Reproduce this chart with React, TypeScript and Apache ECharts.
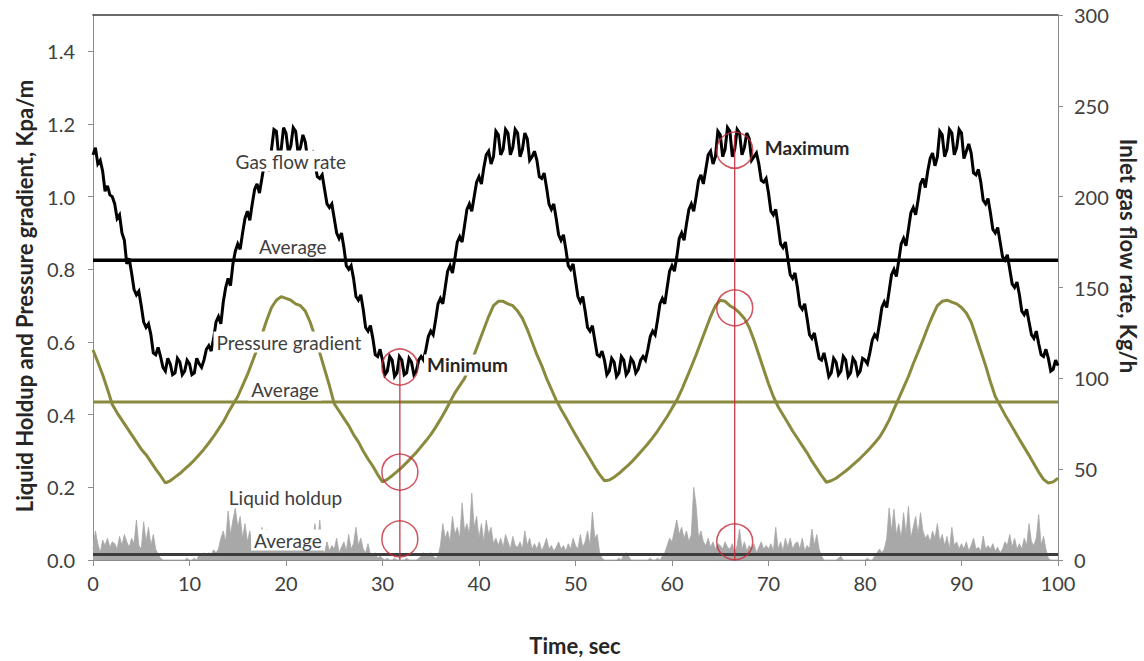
import React, { useEffect, useRef } from "react";
import * as echarts from "echarts";

// ---- Data ----
const GAS_STEP = 0.25; // s
// Inlet gas flow rate, Kg/h, t = 0, 0.25, ..., 100 (one row per second)
const gasFlow = [
  223, 227, 218, 220,
  214, 203, 206, 201,
  200, 196, 188, 190,
  180, 176, 163, 166,
  158, 149, 146, 148,
  140, 131, 128, 130,
  124, 114, 113, 117,
  112, 106, 104, 111,
  108, 102, 103, 111,
  109, 102, 104, 110,
  108, 102, 103, 111,
  108, 106, 110, 116,
  118, 115, 122, 131,
  134, 130, 142, 150,
  155, 151, 163, 170,
  174, 171, 180, 188,
  192, 187, 196, 204,
  207, 202, 210, 218,
  220, 214, 226, 237,
  236, 222, 226, 238,
  235, 224, 228, 238,
  236, 224, 227, 234,
  230, 220, 222, 224,
  218, 211, 210, 212,
  204, 196, 194, 196,
  188, 180, 177, 180,
  172, 162, 160, 162,
  155, 145, 143, 146,
  138, 128, 126, 129,
  122, 113, 112, 116,
  110, 102, 104, 112,
  110, 101, 103, 112,
  110, 102, 103, 111,
  109, 102, 104, 110,
  112, 110, 116, 123,
  126, 124, 132, 141,
  144, 141, 150, 159,
  162, 158, 166, 175,
  178, 175, 184, 193,
  196, 192, 200, 208,
  211, 207, 216, 223,
  225, 218, 222, 236,
  234, 223, 226, 237,
  235, 223, 227, 237,
  235, 222, 226, 235,
  232, 220, 222, 225,
  220, 211, 210, 213,
  205, 196, 193, 196,
  188, 179, 176, 179,
  171, 162, 160, 163,
  154, 145, 142, 145,
  137, 128, 126, 129,
  121, 113, 112, 115,
  110, 102, 104, 111,
  109, 101, 103, 112,
  110, 102, 104, 111,
  109, 103, 105, 110,
  112, 110, 116, 123,
  126, 124, 132, 141,
  144, 141, 150, 159,
  162, 159, 167, 177,
  180, 176, 185, 193,
  196, 192, 200, 209,
  212, 207, 215, 223,
  225, 218, 222, 236,
  234, 222, 226, 238,
  236, 222, 226, 237,
  235, 223, 227, 235,
  232, 220, 222, 224,
  218, 209, 208, 210,
  202, 192, 190, 193,
  184, 174, 172, 175,
  166, 157, 155, 158,
  150, 140, 138, 141,
  133, 124, 122, 125,
  118, 111, 110, 114,
  108, 101, 103, 111,
  109, 102, 104, 112,
  110, 101, 103, 111,
  109, 102, 104, 111,
  110, 108, 114, 121,
  124, 122, 130, 139,
  142, 139, 148, 157,
  160, 156, 165, 174,
  177, 173, 182, 191,
  194, 190, 198, 207,
  210, 205, 214, 221,
  224, 217, 222, 236,
  234, 222, 226, 237,
  235, 223, 227, 237,
  235, 221, 225, 229,
  224, 213, 212, 215,
  208, 198, 196, 199,
  191, 182, 180, 183,
  175, 167, 165, 168,
  160, 152, 150, 153,
  146, 137, 135, 138,
  131, 124, 122, 126,
  119, 113, 112, 116,
  111, 104, 105, 110,
  107,
];

const PRESSURE_STEP = 0.5; // s
// Pressure gradient, Kpa/m, t = 0, 0.5, ..., 100
const pressureGradient = [
  0.578, 0.545, 0.51, 0.47, 0.428, 0.405, 0.385, 0.365, 0.345, 0.325,
  0.305, 0.29, 0.27, 0.25, 0.232, 0.212, 0.218, 0.228, 0.238, 0.25,
  0.262, 0.275, 0.29, 0.305, 0.322, 0.34, 0.36, 0.38, 0.405, 0.428,
  0.45, 0.48, 0.51, 0.545, 0.58, 0.62, 0.66, 0.695, 0.715, 0.725,
  0.72, 0.715, 0.705, 0.7, 0.685, 0.655, 0.615, 0.57, 0.525, 0.48,
  0.43, 0.41, 0.39, 0.37, 0.345, 0.325, 0.3, 0.278, 0.258, 0.235,
  0.215, 0.222, 0.232, 0.243, 0.255, 0.268, 0.282, 0.296, 0.312, 0.328,
  0.345, 0.365, 0.387, 0.41, 0.435, 0.46, 0.48, 0.5, 0.53, 0.565,
  0.6, 0.635, 0.67, 0.7, 0.712, 0.712, 0.705, 0.7, 0.685, 0.665,
  0.635, 0.6, 0.565, 0.535, 0.5, 0.47, 0.44, 0.415, 0.392, 0.368,
  0.345, 0.322, 0.3, 0.278, 0.255, 0.235, 0.218, 0.22, 0.228, 0.238,
  0.25, 0.262, 0.275, 0.29, 0.305, 0.32, 0.337, 0.355, 0.375, 0.395,
  0.418, 0.44, 0.468, 0.5, 0.532, 0.565, 0.6, 0.635, 0.67, 0.7,
  0.715, 0.712, 0.7, 0.692, 0.68, 0.665, 0.64, 0.605, 0.565, 0.525,
  0.485, 0.45, 0.422, 0.4, 0.378, 0.355, 0.335, 0.315, 0.295, 0.272,
  0.252, 0.232, 0.214, 0.218, 0.225, 0.235, 0.245, 0.256, 0.268, 0.28,
  0.293, 0.307, 0.322, 0.338, 0.36, 0.385, 0.415, 0.445, 0.475, 0.505,
  0.54, 0.572, 0.605, 0.64, 0.672, 0.7, 0.712, 0.715, 0.71, 0.705,
  0.695, 0.68, 0.655, 0.615, 0.575, 0.535, 0.49, 0.45, 0.425, 0.4,
  0.378, 0.355, 0.332, 0.31, 0.288, 0.265, 0.242, 0.222, 0.212, 0.215,
  0.225,
];

const HOLDUP_STEP = 0.25; // s
// Liquid holdup, t = 0, 0.25, ..., 100 (one row per second)
const liquidHoldup = [
  0.03, 0.08, 0.045, 0.02,
  0.055, 0.04, 0.06, 0.035,
  0.05, 0.045, 0.03, 0.065,
  0.04, 0.07, 0.05, 0.035,
  0.06, 0.045, 0.11, 0.04,
  0.03, 0.105, 0.05, 0.09,
  0.04, 0.07, 0.03, 0.015,
  0.005, 0, 0, 0,
  0, 0, 0, 0,
  0, 0, 0, 0.005,
  0, 0, 0.005, 0,
  0.015, 0.01, 0.02, 0.01,
  0.02, 0.015, 0.028, 0.02,
  0.03, 0.06, 0.08, 0.05,
  0.135, 0.07, 0.11, 0.143,
  0.09, 0.12, 0.06, 0.1,
  0.05, 0.08, 0.04, 0.035,
  0.05, 0.03, 0.09, 0.04,
  0.085, 0.035, 0.05, 0.03,
  0.045, 0.06, 0.03, 0.05,
  0.035, 0.055, 0.04, 0.03,
  0.05, 0.035, 0.06, 0.04,
  0.03, 0.045, 0.035, 0.05,
  0.1, 0.04, 0.11, 0.03,
  0.02, 0.05, 0.025, 0.04,
  0.03, 0.06, 0.02, 0.035,
  0.05, 0.025, 0.07, 0.03,
  0.045, 0.09, 0.04, 0.06,
  0.03, 0.02, 0.045, 0.015,
  0.01, 0.02, 0.005, 0.01,
  0.005, 0, 0.005, 0,
  0, 0.005, 0, 0,
  0, 0, 0.005, 0,
  0, 0, 0, 0.005,
  0.01, 0.02, 0.01, 0.015,
  0.02, 0.01, 0.005, 0.01,
  0.04, 0.1, 0.06, 0.08,
  0.05, 0.12, 0.07, 0.09,
  0.06, 0.157, 0.08, 0.1,
  0.07, 0.184, 0.09, 0.12,
  0.06, 0.1, 0.05, 0.11,
  0.07, 0.09, 0.045, 0.06,
  0.04, 0.06, 0.035, 0.07,
  0.05, 0.03, 0.065, 0.04,
  0.035, 0.05, 0.03, 0.08,
  0.04, 0.06, 0.03, 0.045,
  0.03, 0.05, 0.025, 0.04,
  0.06, 0.03, 0.04, 0.025,
  0.035, 0.05, 0.03, 0.04,
  0.025, 0.045, 0.03, 0.06,
  0.04, 0.03, 0.07, 0.035,
  0.05, 0.08, 0.04, 0.132,
  0.06, 0.07, 0.02, 0.005,
  0, 0, 0, 0,
  0, 0, 0.005, 0,
  0.015, 0.02, 0.01, 0,
  0, 0, 0, 0,
  0, 0, 0, 0.005,
  0, 0, 0.005, 0,
  0.01, 0.02, 0.04, 0.06,
  0.05, 0.08, 0.11, 0.07,
  0.09, 0.06, 0.08, 0.05,
  0.07, 0.2, 0.15, 0.06,
  0.08, 0.05, 0.04, 0.06,
  0.035, 0.05, 0.03, 0.045,
  0.04, 0.03, 0.05, 0.035,
  0.03, 0.045, 0.02, 0.04,
  0.085, 0.03, 0.05, 0.025,
  0.04, 0.03, 0.045, 0.02,
  0.035, 0.05, 0.03, 0.04,
  0.03, 0.045, 0.025, 0.09,
  0.03, 0.05, 0.025, 0.06,
  0.035, 0.06, 0.03, 0.045,
  0.05, 0.03, 0.06, 0.025,
  0.04, 0.03, 0.085, 0.04,
  0.07, 0.03, 0.01, 0,
  0, 0, 0, 0,
  0, 0.005, 0.01, 0,
  0, 0, 0, 0,
  0, 0, 0, 0,
  0, 0.005, 0, 0,
  0.01, 0.02, 0.03, 0.02,
  0.03, 0.06, 0.143, 0.08,
  0.14, 0.07, 0.1, 0.06,
  0.13, 0.07, 0.148, 0.06,
  0.09, 0.12, 0.07, 0.13,
  0.08, 0.06, 0.07, 0.05,
  0.08, 0.06, 0.1, 0.05,
  0.07, 0.04, 0.065, 0.03,
  0.09, 0.04, 0.05, 0.03,
  0.045, 0.03, 0.05, 0.025,
  0.04, 0.06, 0.03, 0.035,
  0.025, 0.066, 0.03, 0.04,
  0.03, 0.045, 0.025, 0.035,
  0.02, 0.03, 0.05, 0.04,
  0.07, 0.035, 0.06, 0.03,
  0.045, 0.03, 0.06, 0.04,
  0.1, 0.05, 0.04, 0.06,
  0.125, 0.04, 0.065, 0.03,
  0.005, 0, 0, 0,
  0,
];

// averages
const AVG_GAS = 165; // Kg/h
const AVG_PRESSURE = 0.435; // Kpa/m
const AVG_HOLDUP = 0.015;

// minimum / maximum markers
const MIN_TIME = 31.8;
const minimumMarks = [0.531, 0.242, 0.058];
const MAX_TIME = 66.5;
const maximumMarks = [1.128, 0.694, 0.05];
const MIN_LINE_TOP = 0.55;
const MAX_LINE_TOP = 1.17;

// in-plot annotations (data coordinates on the left axis)
const annotationTexts = [
  "Gas flow rate",
  "Average",
  "Pressure gradient",
  "Average",
  "Liquid holdup",
  "Average",
  "Minimum",
  "Maximum",
];
const annotationTime = [20.5, 20.7, 20.3, 19.9, 19.95, 20.2, 38.8, 74.0];
const annotationValue = [1.098, 0.864, 0.6, 0.468, 0.173, 0.055, 0.537, 1.134];
const annotationBold = [false, false, false, false, false, false, true, true];

// axes
const X_MIN = 0;
const X_MAX = 100;
const X_INTERVAL = 10;
const LEFT_MIN = 0;
const LEFT_MAX = 1.5;
const LEFT_INTERVAL = 0.2;
const RIGHT_MIN = 0;
const RIGHT_MAX = 300;
const RIGHT_INTERVAL = 50;

const X_TITLE = "Time, sec";
const LEFT_TITLE = "Liquid Holdup and Pressure gradient, Kpa/m";
const RIGHT_TITLE = "Inlet gas flow rate, Kg/h";

// ---- styles ----
const FONT = "Lato, 'Open Sans', sans-serif";
const OLIVE = "#8A8A3E";
const RED = "#C42B3A";
const AXIS_GRAY = "#8C8C8C";
const TEXT = "#404040";
const TITLE = "#262626";

const toPairs = (arr: number[], step: number) => arr.map((v, i) => [i * step, v]);

function titleGraphics(): any[] {
  return [
    {
      type: "text",
      x: 24,
      y: 296,
      rotation: Math.PI / 2,
      z: 100,
      style: {
        text: LEFT_TITLE,
        font: `bold 22px ${FONT}`,
        fill: TITLE,
        align: "center",
        verticalAlign: "middle",
      },
    },
    {
      type: "text",
      x: 1128,
      y: 256,
      rotation: -Math.PI / 2,
      z: 100,
      style: {
        text: RIGHT_TITLE,
        font: `bold 22px ${FONT}`,
        fill: TITLE,
        align: "center",
        verticalAlign: "middle",
      },
    },
    {
      type: "text",
      x: 575,
      y: 645,
      z: 100,
      style: {
        text: X_TITLE,
        font: `bold 22px ${FONT}`,
        fill: TITLE,
        align: "center",
        verticalAlign: "middle",
      },
    },
  ];
}

function buildOption(): any {
  const gasData = toPairs(gasFlow, GAS_STEP);
  const pressureData = toPairs(pressureGradient, PRESSURE_STEP);
  const holdupData = toPairs(liquidHoldup, HOLDUP_STEP);

  const circleData = [
    ...minimumMarks.map((v) => [MIN_TIME, v]),
    ...maximumMarks.map((v) => [MAX_TIME, v]),
  ];

  const tickLabel = { fontFamily: FONT, fontSize: 20, color: TEXT };

  return {
    animation: false,
    backgroundColor: "#ffffff",
    grid: { left: 93, right: 86, top: 15, bottom: 101, containLabel: false },
    xAxis: [
      {
        type: "value",
        min: X_MIN,
        max: X_MAX,
        interval: X_INTERVAL,
        axisLine: { show: true, onZero: false, lineStyle: { color: AXIS_GRAY, width: 1 } },
        axisTick: { show: true, inside: false, length: 6, lineStyle: { color: AXIS_GRAY } },
        axisLabel: { margin: 13, ...tickLabel },
        splitLine: { show: false },
      },
      {
        type: "value",
        position: "top",
        min: X_MIN,
        max: X_MAX,
        axisLine: { show: true, onZero: false, lineStyle: { color: "#3a3a3a", width: 1.5 } },
        axisTick: { show: false },
        axisLabel: { show: false },
        splitLine: { show: false },
      },
    ],
    yAxis: [
      {
        type: "value",
        min: LEFT_MIN,
        max: LEFT_MAX,
        interval: LEFT_INTERVAL,
        position: "left",
        axisLine: { show: true, onZero: false, lineStyle: { color: AXIS_GRAY, width: 1 } },
        axisTick: { show: true, inside: false, length: 5, lineStyle: { color: AXIS_GRAY } },
        axisLabel: {
          margin: 18,
          ...tickLabel,
          showMaxLabel: false,
          formatter: (v: number) => v.toFixed(1),
        },
        splitLine: { show: false },
      },
      {
        type: "value",
        min: RIGHT_MIN,
        max: RIGHT_MAX,
        interval: RIGHT_INTERVAL,
        position: "right",
        axisLine: { show: true, onZero: false, lineStyle: { color: AXIS_GRAY, width: 1 } },
        axisTick: { show: true, inside: false, length: 5, lineStyle: { color: AXIS_GRAY } },
        axisLabel: { margin: 16, ...tickLabel },
        splitLine: { show: false },
      },
    ],
    series: [
      {
        name: "Liquid holdup",
        type: "line",
        data: holdupData,
        yAxisIndex: 0,
        symbol: "none",
        lineStyle: { color: "#A8A8A8", width: 0.8 },
        areaStyle: { color: "#A8A8A8", opacity: 1 },
        z: 1,
      },
      {
        name: "Liquid holdup average",
        type: "line",
        data: [[X_MIN, AVG_HOLDUP], [X_MAX, AVG_HOLDUP]],
        yAxisIndex: 0,
        symbol: "none",
        lineStyle: { color: "#3c3c3c", width: 3 },
        z: 2,
      },
      {
        name: "Pressure gradient average",
        type: "line",
        data: [[X_MIN, AVG_PRESSURE], [X_MAX, AVG_PRESSURE]],
        yAxisIndex: 0,
        symbol: "none",
        lineStyle: { color: OLIVE, width: 3 },
        z: 2,
      },
      {
        name: "Gas flow rate average",
        type: "line",
        data: [[X_MIN, AVG_GAS], [X_MAX, AVG_GAS]],
        yAxisIndex: 1,
        symbol: "none",
        lineStyle: { color: "#000000", width: 3.5 },
        z: 2,
      },
      {
        name: "Gas flow rate",
        type: "line",
        data: gasData,
        yAxisIndex: 1,
        symbol: "none",
        lineStyle: { color: "#000000", width: 3, join: "miter", miterLimit: 3 },
        z: 3,
      },
      {
        name: "Pressure gradient",
        type: "line",
        data: pressureData,
        yAxisIndex: 0,
        symbol: "none",
        lineStyle: { color: OLIVE, width: 3 },
        z: 3,
      },
      {
        name: "Minimum line",
        type: "line",
        data: [[MIN_TIME, 0], [MIN_TIME, MIN_LINE_TOP]],
        yAxisIndex: 0,
        symbol: "none",
        lineStyle: { color: RED, width: 1.2 },
        z: 4,
      },
      {
        name: "Maximum line",
        type: "line",
        data: [[MAX_TIME, 0], [MAX_TIME, MAX_LINE_TOP]],
        yAxisIndex: 0,
        symbol: "none",
        lineStyle: { color: RED, width: 1.2 },
        z: 4,
      },
      {
        name: "Markers",
        type: "scatter",
        data: circleData,
        yAxisIndex: 0,
        symbol: "circle",
        symbolSize: 36,
        itemStyle: { color: "rgba(0,0,0,0)", borderColor: RED, borderWidth: 1.5 },
        z: 5,
      },
    ],
    graphic: titleGraphics(),
  };
}

export default function App() {
  const ref = useRef<HTMLDivElement>(null);
  useEffect(() => {
    if (!ref.current) return;
    const chart = echarts.init(ref.current, null, { renderer: "svg" });
    chart.setOption(buildOption());
    // annotations placed through the chart's own scales
    const notes = annotationTexts.map((t, i) => {
      const p = chart.convertToPixel({ xAxisIndex: 0, yAxisIndex: 0 }, [
        annotationTime[i],
        annotationValue[i],
      ]) as number[];
      return {
        type: "text",
        x: p[0],
        y: p[1],
        z: 100,
        style: {
          text: t,
          font: `${annotationBold[i] ? "bold " : ""}19px ${FONT}`,
          fill: annotationBold[i] ? TITLE : TEXT,
          align: "center",
          verticalAlign: "middle",
          backgroundColor: "#ffffff",
          padding: [1, 3, 1, 3],
        },
      };
    });
    chart.setOption({ graphic: [...titleGraphics(), ...notes] });
    return () => chart.dispose();
  }, []);
  return (
    <div
      ref={ref}
      style={{ position: "fixed", left: 0, top: 0, width: 1144, height: 661, background: "#fff" }}
    />
  );
}
